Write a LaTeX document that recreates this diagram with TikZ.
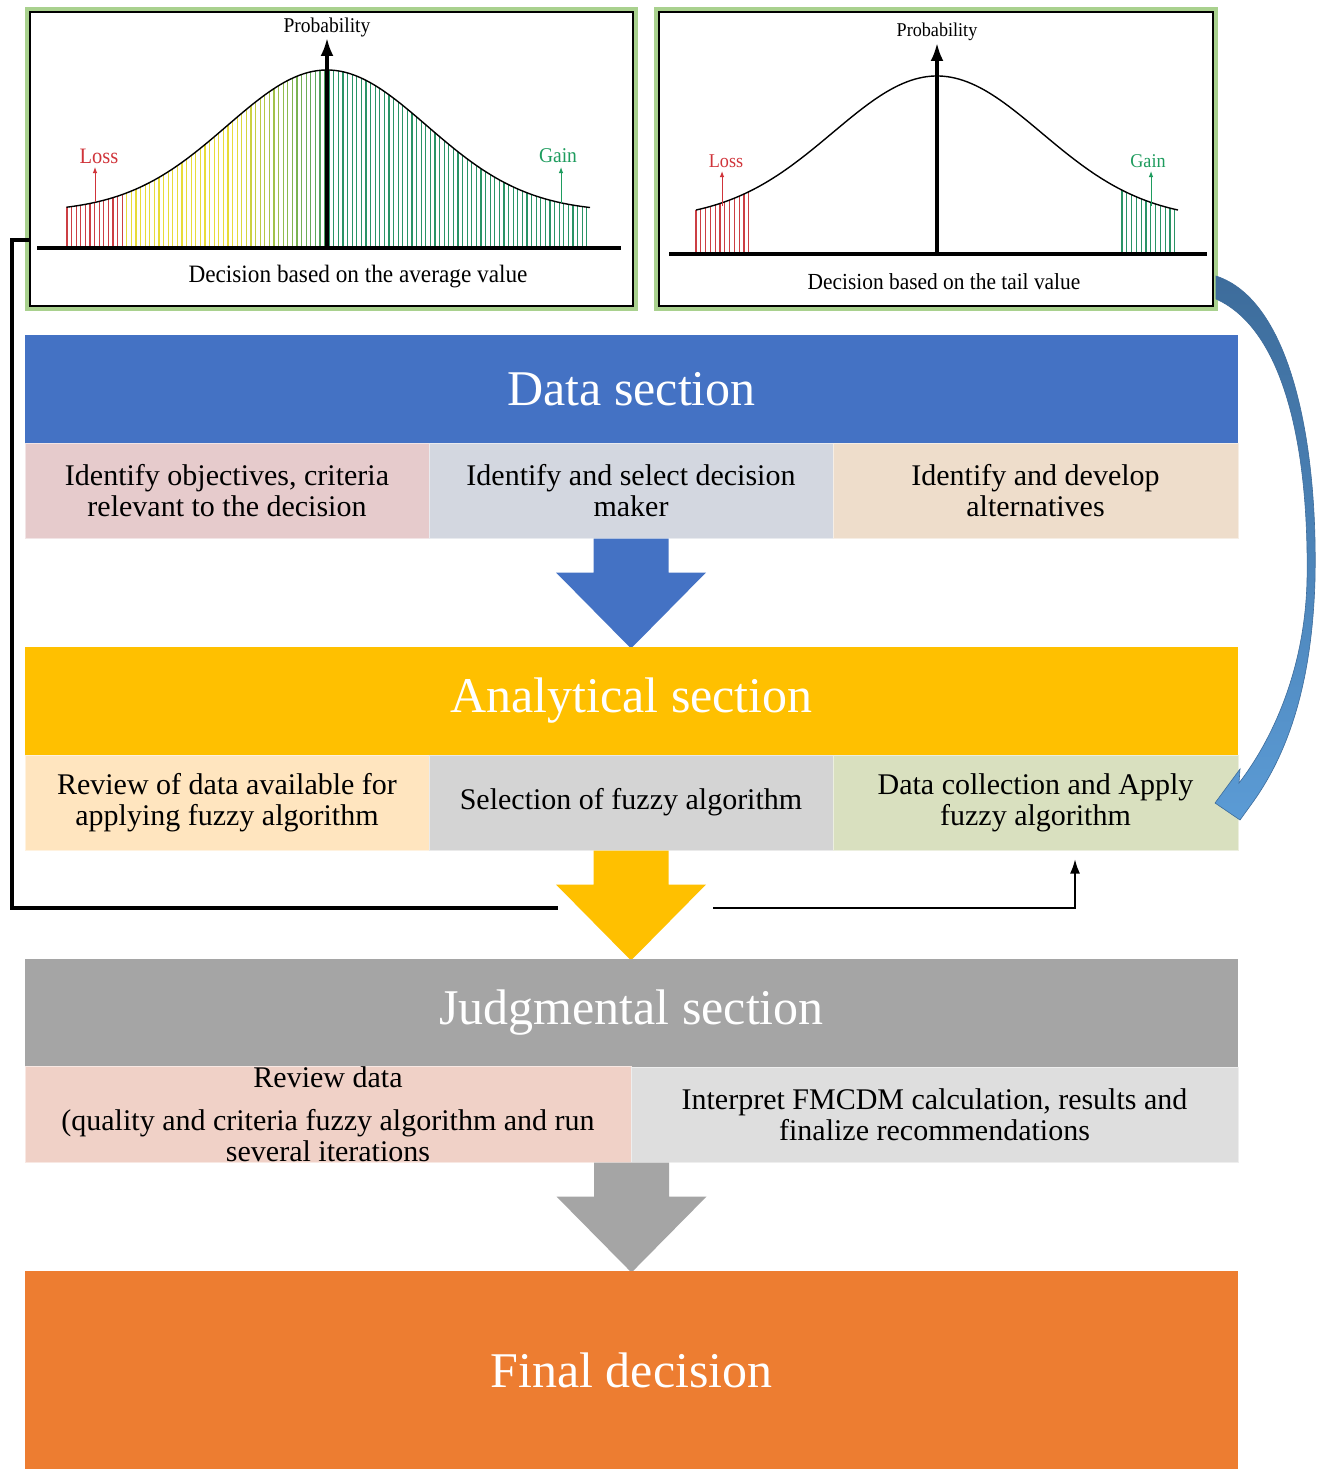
\documentclass[tikz,border=0pt]{standalone}
\usepackage{fontspec}
\setmainfont{Liberation Serif}
\newfontfamily\chf[FakeStretch=0.93]{Liberation Serif}
\usetikzlibrary{arrows.meta,calc}
\definecolor{cblue}{HTML}{4472C4}
\definecolor{cyellow}{HTML}{FFC000}
\definecolor{cgrey}{HTML}{A5A5A5}
\definecolor{corange}{HTML}{ED7D31}
\definecolor{rAa}{HTML}{E6CBCC}
\definecolor{rAb}{HTML}{D3D7E0}
\definecolor{rAc}{HTML}{EEDDCB}
\definecolor{rBa}{HTML}{FFE5BF}
\definecolor{rBb}{HTML}{D4D4D4}
\definecolor{rBc}{HTML}{D9E0BF}
\definecolor{rCa}{HTML}{F0D1C7}
\definecolor{rCb}{HTML}{DEDEDE}
\definecolor{frameg}{HTML}{A9D18E}
\definecolor{hred}{HTML}{CC3F44}
\definecolor{hyellow}{HTML}{E8DC3A}
\definecolor{hgreen}{HTML}{2A9466}
\definecolor{lossred}{HTML}{D0343A}
\definecolor{gaingreen}{HTML}{1E9C5E}
\definecolor{arrtop}{HTML}{3D6C9B}
\definecolor{arrbot}{HTML}{5B9BD5}
\tikzset{
  hdr/.style={fill=#1, draw=none, minimum width=1213pt, inner sep=0pt, text=white,
    font=\fontsize{50}{55}\selectfont},
  sub/.style={fill=#1, draw=#1!50!white, line width=1pt, minimum height=95pt, inner sep=0pt,
    align=center, font=\fontsize{30}{31}\selectfont},
  chartbox/.style={preaction={draw=frameg, line width=10pt}, fill=white, draw=black,
    line width=1.4pt, inner sep=0pt},
  chtext/.style={font=\chf\fontsize{#1}{#1}\selectfont, inner sep=0pt},
  conn/.style={line width=3.4pt, black},
  axisline/.style={line width=3.2pt, black},
  hatch/.style={line width=1.1pt},
  blockarrow/.pic={\fill[#1] (-37.5,0) -- (37.5,0) -- (37.5,34) -- (75,34) -- (0,110)
    -- (-75,34) -- (-37.5,34) -- cycle;},
}
\begin{document}
\begin{tikzpicture}[x=1pt,y=-1pt]
\useasboundingbox[fill=white] (0,0) rectangle (1318,1469);

% ---------- chart frames ----------
\node[chartbox, minimum width=603pt, minimum height=294pt] (ch1) at (331.5,159) {};
\node[chartbox, minimum width=554pt, minimum height=294pt] (ch2) at (936,159) {};

% ---------- left chart ----------
\foreach \x in {67,71.6,...,590} {
  \pgfmathsetmacro\hy{248-(36+142*exp(-0.5*((\x-327)/100)*((\x-327)/100)))}
  \pgfmathsetmacro\hf{max(0,min(85,(\x-235)/92*85))}
  \ifdim\x pt<124pt \colorlet{hc}{hred}\else
    \ifdim\x pt<327pt \colorlet{hc}{hgreen!\hf!hyellow}\else\colorlet{hc}{hgreen}\fi\fi
  \draw[hc, hatch] (\x,248) -- (\x,\hy);
}
\draw[line width=1.4pt] plot[domain=66.5:590, samples=120, smooth]
  (\x, {248-(36+142*exp(-0.5*((\x-327)/100)*((\x-327)/100)))});
\draw[axisline] (37,248) -- (621,248);
\draw[axisline, -{Latex[length=18pt,width=13pt]}] (327,248) -- (327,38);
\draw[lossred, line width=1pt, -{Latex[length=6pt,width=4.5pt]}] (95,202) -- (95,167);
\draw[gaingreen, line width=1pt, -{Latex[length=6pt,width=4.5pt]}] (561,203) -- (561,167);
\node[chtext=21] (p1) at (327,27) {Probability};
\node[chtext=22, text=lossred] (l1) at (99,156) {Loss};
\node[chtext=21, text=gaingreen] (g1) at (558,156) {Gain};
\node[chtext=25] (t1) at (358,277) {Decision based on the average value};

% ---------- right chart ----------
\foreach \x in {696,700.8,...,750} {
  \pgfmathsetmacro\hy{254-(34+144*exp(-0.5*((\x-937)/104.3)*((\x-937)/104.3)))}
  \draw[hred, hatch] (\x,254) -- (\x,\hy);
}
\foreach \x in {1122,1126.8,...,1179} {
  \pgfmathsetmacro\hy{254-(34+144*exp(-0.5*((\x-937)/104.3)*((\x-937)/104.3)))}
  \draw[hgreen, hatch] (\x,254) -- (\x,\hy);
}
\draw[line width=1.4pt] plot[domain=696:1178, samples=120, smooth]
  (\x, {254-(34+144*exp(-0.5*((\x-937)/104.3)*((\x-937)/104.3)))});
\draw[axisline] (669,254) -- (1207,254);
\draw[axisline, -{Latex[length=18pt,width=13pt]}] (937,254) -- (937,43);
\draw[lossred, line width=1pt, -{Latex[length=6pt,width=4.5pt]}] (722,206) -- (722,171);
\draw[gaingreen, line width=1pt, -{Latex[length=6pt,width=4.5pt]}] (1151,206) -- (1151,171);
\node[chtext=19.5] (p2) at (937,32) {Probability};
\node[chtext=19.5, text=lossred] (l2) at (726,161) {Loss};
\node[chtext=19.5, text=gaingreen] (g2) at (1148,161) {Gain};
\node[chtext=23] (t2) at (944,282) {Decision based on the tail value};

% ---------- data section ----------
\node[hdr=cblue, minimum height=108pt] (dh) at (631.5,389) {Data section};
\node[sub=rAa, minimum width=404pt] (d1) at (227,490.5) {Identify objectives, criteria\\relevant to the decision};
\node[sub=rAb, minimum width=404pt] (d2) at (631,490.5) {Identify and select decision\\maker};
\node[sub=rAc, minimum width=405pt] (d3) at (1035.5,490.5) {Identify and develop\\alternatives};
\pic at (d2.south) {blockarrow=cblue};

% ---------- analytical section ----------
\node[hdr=cyellow, minimum height=108pt] (ah) at (631.5,701) {Analytical section};
\node[sub=rBa, minimum width=404pt] (a1) at (227,802.5) {Review of data available for\\applying fuzzy algorithm};
\node[sub=rBb, minimum width=404pt] (a2) at (631,802.5) {Selection of fuzzy algorithm};
\node[sub=rBc, minimum width=405pt] (a3) at (1035.5,802.5) {Data collection and Apply\\fuzzy algorithm};
\pic at (a2.south) {blockarrow=cyellow};

% ---------- judgmental section ----------
\node[hdr=cgrey, minimum height=108pt] (jh) at (631.5,1013) {Judgmental section};
\node[sub=rCa, minimum width=606pt] (j1) at (328,1114.5) {Review data\\[12pt](quality and criteria fuzzy algorithm and run\\several iterations};
\node[sub=rCb, minimum width=607pt] (j2) at (934.5,1114.5) {Interpret FMCDM calculation, results and\\finalize recommendations};
\pic at (j1.south east) {blockarrow=cgrey};

% ---------- final ----------
\node[hdr=corange, minimum height=198pt] (fd) at (631.5,1370) {Final decision};

% ---------- feedback connector ----------
\coordinate (lk1) at (12,240);
\coordinate (lk2) at (12,908);
\coordinate (lk3) at (558,908);
\coordinate (lk4) at (713,908);
\coordinate (lk5) at (1075,908);
\draw[conn] (ch1.west |- lk1) -- (lk1) -- (lk2) -- (lk3);
\draw[line width=2.8pt, -{Latex[length=15pt,width=10pt]}, shorten >=8pt] (lk4) -- (lk5) -- (lk5 |- a3.south);

% ---------- curved blue arrow ----------
\coordinate (ca0) at (1216,276);
\coordinate (ca1) at (1216,299);
\coordinate (catip) at (1215,803);
\shade[top color=arrtop, bottom color=arrbot, draw=arrtop, line width=0.6pt]
  (ca0) .. controls (1290,300) and (1318,440) .. (1315,580)
  .. controls (1312,680) and (1290,750) .. (1253,802)
  -- (1240,820) -- (catip) -- (1240,769) -- (1239,783)
  .. controls (1272,740) and (1305,670) .. (1307,580)
  .. controls (1309,450) and (1285,330) .. (ca1) -- cycle;
\end{tikzpicture}
\end{document}
